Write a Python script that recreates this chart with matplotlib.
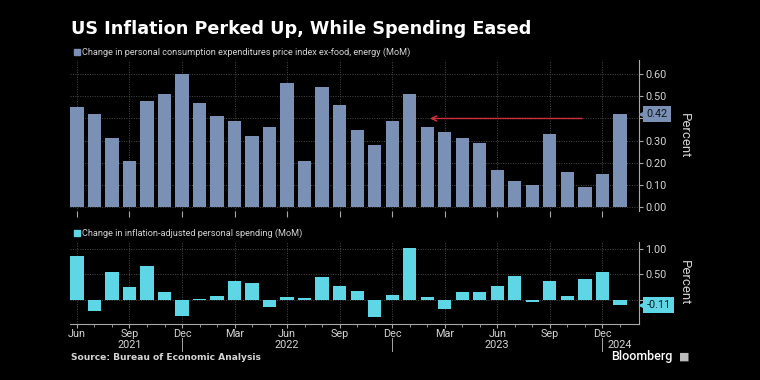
import numpy as np
import pandas as pd
import matplotlib
matplotlib.use("Agg")
import matplotlib.pyplot as plt
import matplotlib.transforms as mtransforms

months = pd.date_range("2021-06-01", periods=32, freq="MS")
core_pce = [0.45, 0.42, 0.31, 0.21, 0.48, 0.51, 0.60, 0.47, 0.41, 0.39, 0.32, 0.36,
            0.56, 0.21, 0.54, 0.46, 0.35, 0.28, 0.39, 0.51, 0.36, 0.34, 0.31, 0.29,
            0.17, 0.12, 0.10, 0.33, 0.16, 0.09, 0.15, 0.42]
real_spending = [0.86, -0.22, 0.54, 0.24, 0.66, 0.14, -0.33, 0.01, 0.06, 0.36, 0.32, -0.14,
                 0.04, 0.02, 0.44, 0.27, 0.17, -0.35, 0.09, 1.03, 0.05, -0.19, 0.15, 0.14,
                 0.27, 0.47, -0.05, 0.37, 0.07, 0.41, 0.55, -0.11]
top_label = "Change in personal consumption expenditures price index ex-food, energy (MoM)"
bottom_label = "Change in inflation-adjusted personal spending (MoM)"
years = ["2021", "2022", "2023", "2024"]
year_pos = [3, 12, 24, 31]
year_breaks = [6, 18, 30]
top_ticks = [0.0, 0.1, 0.2, 0.3, 0.4, 0.5, 0.6]
bottom_ticks = [0.0, 0.5, 1.0]

BG = "#000000"
BLUE = "#7a90b4"
CYAN = "#5fd6e6"
TXT = "#d4d4d4"
GRID = "#4a4a4a"
SPINE = "#a8a8a8"
FONT = ["Roboto", "DejaVu Sans"]
TS = 7.8

x = np.arange(len(months))
quarter_idx = x[::3]
quarter_lbl = [m.strftime("%b") for m in months[::3]]


def tick_labels(ticks, last):
    # the tick label hidden under the last-value tag is left blank
    hidden = min(ticks, key=lambda t: abs(t - last))
    return ["" if t == hidden else f"{t:.2f}" for t in ticks]


fig = plt.figure(figsize=(7.6, 3.8), dpi=100, facecolor=BG)
ax1 = fig.add_axes([0.092, 0.445, 0.749, 0.397], facecolor=BG)
ax2 = fig.add_axes([0.092, 0.147, 0.749, 0.217], facecolor=BG)

for ax in (ax1, ax2):
    ax.set_xlim(-0.4, 32.1)
    ax.yaxis.tick_right()
    for s in ("left", "top"):
        ax.spines[s].set_visible(False)
    ax.spines["right"].set_color(SPINE)
    ax.spines["bottom"].set_color(SPINE)
    ax.set_xticks(quarter_idx)
    ax.set_xticks(x, minor=True)
    ax.grid(True, color=GRID, linestyle=(0, (1, 1.5)), linewidth=0.7)
    ax.set_axisbelow(True)
    ax.tick_params(axis="both", colors=SPINE, labelcolor=TXT, labelsize=TS,
                   direction="out", length=3, width=0.8, pad=1.5)
    ax.tick_params(axis="x", which="minor", length=2, colors=SPINE)

# top panel
ax1.bar(x, core_pce, width=0.76, color=BLUE)
ax1.set_ylim(-0.016, 0.663)
ax1.set_yticks(top_ticks)
ax1.set_yticklabels(tick_labels(top_ticks, core_pce[-1]), family=FONT)
ax1.spines["bottom"].set_visible(False)
ax1.tick_params(axis="x", labelbottom=False, length=4)
ax1.tick_params(axis="x", which="minor", length=0)
ax1.annotate("", xy=(20, 0.40), xytext=(29, 0.40),
             arrowprops=dict(arrowstyle="->", color="#c8323c", lw=1.1,
                             linestyle=(0, (1, 0.6)), mutation_scale=9))

# bottom panel
ax2.bar(x, real_spending, width=0.76, color=CYAN)
ax2.set_ylim(-0.49, 1.15)
ax2.set_yticks(bottom_ticks)
ax2.set_yticklabels(tick_labels(bottom_ticks, real_spending[-1]), family=FONT)
ax2.set_xticklabels(quarter_lbl, family=FONT)
ax2.tick_params(axis="x", pad=0.8)

# last value labels on the right axis
for ax, val, col in ((ax1, core_pce[-1], BLUE), (ax2, real_spending[-1], CYAN)):
    tr = mtransforms.blended_transform_factory(ax.transAxes, ax.transData)
    ax.plot([1.006], [val], marker="<", markersize=6, color=col, transform=tr,
            clip_on=False, zorder=5)
    ax.text(1.013, val, f"{val:.2f}", transform=tr, ha="left", va="center",
            fontsize=TS, family=FONT, color="#10161e", zorder=6,
            bbox=dict(boxstyle="square,pad=0.3", fc=col, ec="none"))

# year labels and separators
trx = mtransforms.blended_transform_factory(ax2.transData, ax2.transAxes)
for yr, p in zip(years, year_pos):
    ax2.text(p, -0.25, yr, transform=trx, ha="center", va="center", fontsize=TS,
             family=FONT, color=TXT)
for p in year_breaks:
    ax2.plot([p, p], [-0.17, -0.32], transform=trx, color=SPINE, lw=0.7, clip_on=False)

for ax in (ax1, ax2):
    ax.text(1.08, 0.5, "Percent", transform=ax.transAxes, rotation=270, ha="center",
            va="center", fontsize=9.5, family=FONT, color=TXT)

# legends
for ax, lbl, col, yy in ((ax1, top_label, BLUE, 1.055), (ax2, bottom_label, CYAN, 1.10)):
    ax.plot([0.013], [yy], marker="s", markersize=4.5, color=col, transform=ax.transAxes,
            clip_on=False)
    ax.text(0.022, yy, lbl, transform=ax.transAxes, ha="left", va="center",
            fontsize=6.6, family=FONT, color=TXT)

fig.text(0.094, 0.925, "US Inflation Perked Up, While Spending Eased", fontsize=12.7,
         fontweight="bold", color="white", family="DejaVu Sans", va="center")
fig.text(0.094, 0.06, "Source: Bureau of Economic Analysis", fontsize=6.6,
         fontweight="bold", color=TXT, family="DejaVu Sans", va="center")
fig.text(0.885, 0.062, "Bloomberg", fontsize=9, fontweight="medium", color="white",
         family=FONT, va="center", ha="right")
fig.text(0.9, 0.062, "\u25a0", fontsize=8, color="#bbbbbb", family="DejaVu Sans",
         va="center", ha="center")

fig.savefig("out.png", dpi=100, facecolor=BG)
